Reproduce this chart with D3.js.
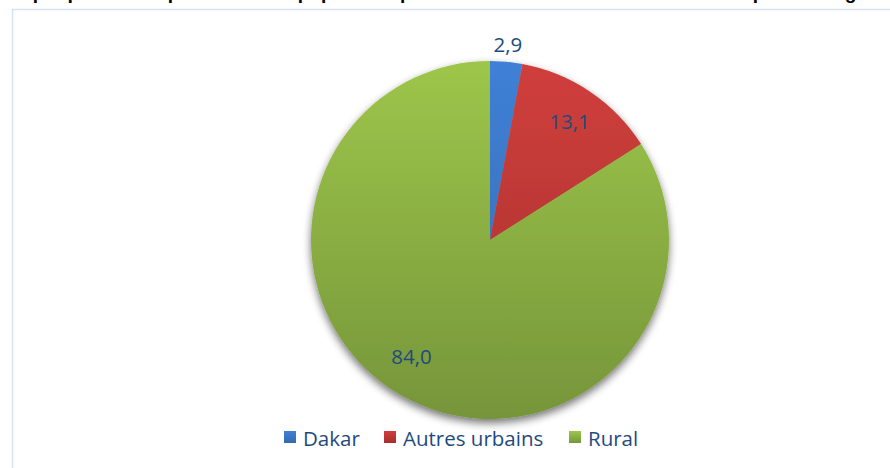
<!DOCTYPE html>
<html><head><meta charset="utf-8">
<script src="https://cdn.jsdelivr.net/npm/d3@7"></script>
<style>html,body{margin:0;padding:0;background:#fff;overflow:hidden}</style>
</head><body>
<svg id="c" width="890" height="468"></svg>
<script>
const categories = ["Dakar", "Autres urbains", "Rural"];
const values = [2.9, 13.1, 84.0];
const labels = ["2,9", "13,1", "84,0"];
const title = "Graphique 1.1 : Répartition de la population pauvre selon le milieu de résidence en pourcentage";

const colorsTop = ["#3f80d6", "#d03f3c", "#9dc64a"];
const colorsBot = ["#346aae", "#a32f2d", "#76953a"];

const svg = d3.select("#c");
const W = 890, H = 468;
const defs = svg.append("defs");

// title, cut off by the top of the picture as in the reference
svg.append("text").attr("x", 0).attr("y", -1)
  .attr("font-family", "Liberation Sans, Arial, sans-serif")
  .attr("font-weight", "bold").attr("font-size", 19).attr("fill", "#000")
  .text(title);

// chart frame
svg.append("rect").attr("x", 12.5).attr("y", 9.5).attr("width", W).attr("height", H)
  .attr("fill", "#fff").attr("stroke", "#d6e2f1").attr("stroke-width", 1.5);

const cx = 490, cy = 240, r = 179;

categories.forEach((c, i) => {
  const g = defs.append("linearGradient").attr("id", "g" + i)
    .attr("gradientUnits", "userSpaceOnUse")
    .attr("x1", 0).attr("y1", -r).attr("x2", 0).attr("y2", r);
  g.append("stop").attr("offset", "0%").attr("stop-color", colorsTop[i]);
  g.append("stop").attr("offset", "100%").attr("stop-color", colorsBot[i]);
  const gg = defs.append("linearGradient").attr("id", "lg" + i).attr("x1", 0).attr("y1", 0).attr("x2", 0).attr("y2", 1);
  gg.append("stop").attr("offset", "0%").attr("stop-color", colorsTop[i]);
  gg.append("stop").attr("offset", "100%").attr("stop-color", colorsBot[i]);
});
const f = defs.append("filter").attr("id", "sh").attr("x", "-20%").attr("y", "-20%").attr("width", "140%").attr("height", "140%");
f.append("feGaussianBlur").attr("in", "SourceAlpha").attr("stdDeviation", 4).attr("result", "b");
f.append("feOffset").attr("in", "b").attr("dx", 0).attr("dy", 4).attr("result", "o");
f.append("feComponentTransfer").attr("in", "o").attr("result", "o2")
  .append("feFuncA").attr("type", "linear").attr("slope", 0.55);
const m = f.append("feMerge");
m.append("feMergeNode").attr("in", "o2");
m.append("feMergeNode").attr("in", "SourceGraphic");

const pie = d3.pie().sort(null).value(d => d)(values);
const arc = d3.arc().innerRadius(0).outerRadius(r);

const g = svg.append("g").attr("transform", `translate(${cx},${cy})`);
g.append("g").attr("filter", "url(#sh)")
  .selectAll("path").data(pie).join("path")
  .attr("d", arc)
  .attr("fill", (d, i) => "url(#g" + i + ")");

const labelR = [196, 142, 142];
g.selectAll("text.lab").data(pie).join("text").attr("class", "lab")
  .attr("transform", (d, i) => {
    const a = (d.startAngle + d.endAngle) / 2;
    let x = Math.sin(a) * labelR[i], y = -Math.cos(a) * labelR[i];
    if (i === 2) { x -= 10; y -= 8; }
    return `translate(${x},${y})`;
  })
  .attr("text-anchor", "middle").attr("dy", "0.35em")
  .attr("font-family", "Open Sans, sans-serif").attr("font-size", 20.5)
  .attr("fill", "#1f4a7e")
  .text((d, i) => labels[i]);

// legend
const legX = [284, 384, 569];
const lg = svg.append("g");
categories.forEach((c, i) => {
  lg.append("rect").attr("x", legX[i]).attr("y", 431).attr("width", 12).attr("height", 12)
    .attr("fill", "url(#lg" + i + ")");
  lg.append("text").attr("x", legX[i] + 19).attr("y", 445.5)
    .attr("font-family", "Open Sans, sans-serif").attr("font-size", 20.5)
    .attr("fill", "#1f4a7e").text(c);
});
</script>
</body></html>
